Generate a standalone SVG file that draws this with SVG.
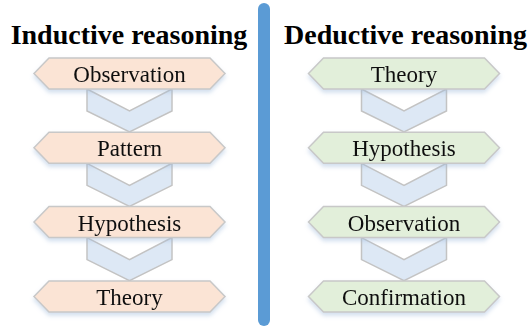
<svg xmlns="http://www.w3.org/2000/svg" width="531" height="327" viewBox="0 0 531 327">
<defs>
<style>
.title{font-family:"Liberation Serif","Times New Roman",serif;font-weight:bold;font-size:28px;fill:#000;text-anchor:middle}
.lbl{font-family:"Liberation Serif","Times New Roman",serif;font-size:23px;fill:#111;text-anchor:middle}
.hexL{fill:#FBE4D5;stroke:#C8C8C8;stroke-width:1.5}
.hexR{fill:#E2EFDA;stroke:#C8C8C8;stroke-width:1.5}
.chev{fill:#DDE8F5;stroke:#C3C3C3;stroke-width:1.5}
</style>
<filter id="sh" x="-10%" y="-30%" width="120%" height="180%">
<feDropShadow dx="0" dy="3" stdDeviation="2" flood-color="#9DB9DA" flood-opacity="0.45"/>
</filter>
<polygon id="hex" points="-95.5,0 -80.5,-15.5 80.5,-15.5 95.5,0 80.5,15.5 -80.5,15.5"/>
<polygon id="chv" points="-42.5,0 0,22 42.5,0 42.5,22 0,43 -42.5,22"/>
</defs>
<rect x="0" y="0" width="531" height="327" fill="#fff"/>
<rect id="divider" x="258" y="3" width="12" height="323" rx="6" ry="6" fill="#5B9BD5"/>
<text class="title" x="129" y="44">Inductive reasoning</text>
<text class="title" x="405.5" y="44">Deductive reasoning</text>
<g id="connectors">
<use href="#chv" class="chev" x="129.5" y="89"/>
<use href="#chv" class="chev" x="129.5" y="163.3"/>
<use href="#chv" class="chev" x="129.5" y="237.6"/>
<use href="#chv" class="chev" x="404" y="89"/>
<use href="#chv" class="chev" x="404" y="163.3"/>
<use href="#chv" class="chev" x="404" y="237.6"/>
</g>
<g id="ind-observation" filter="url(#sh)"><use href="#hex" class="hexL" x="129.5" y="73.5"/><text class="lbl" x="129.5" y="82">Observation</text></g>
<g id="ind-pattern" filter="url(#sh)"><use href="#hex" class="hexL" x="129.5" y="147.8"/><text class="lbl" x="129.5" y="156">Pattern</text></g>
<g id="ind-hypothesis" filter="url(#sh)"><use href="#hex" class="hexL" x="129.5" y="222.1"/><text class="lbl" x="129.5" y="230.5">Hypothesis</text></g>
<g id="ind-theory" filter="url(#sh)"><use href="#hex" class="hexL" x="129.5" y="296.5"/><text class="lbl" x="129.5" y="305">Theory</text></g>
<g id="ded-theory" filter="url(#sh)"><use href="#hex" class="hexR" x="404" y="73.5"/><text class="lbl" x="404" y="82">Theory</text></g>
<g id="ded-hypothesis" filter="url(#sh)"><use href="#hex" class="hexR" x="404" y="147.8"/><text class="lbl" x="404" y="156">Hypothesis</text></g>
<g id="ded-observation" filter="url(#sh)"><use href="#hex" class="hexR" x="404" y="222.1"/><text class="lbl" x="404" y="230.5">Observation</text></g>
<g id="ded-confirmation" filter="url(#sh)"><use href="#hex" class="hexR" x="404" y="296.5"/><text class="lbl" x="404" y="305">Confirmation</text></g>
</svg>
